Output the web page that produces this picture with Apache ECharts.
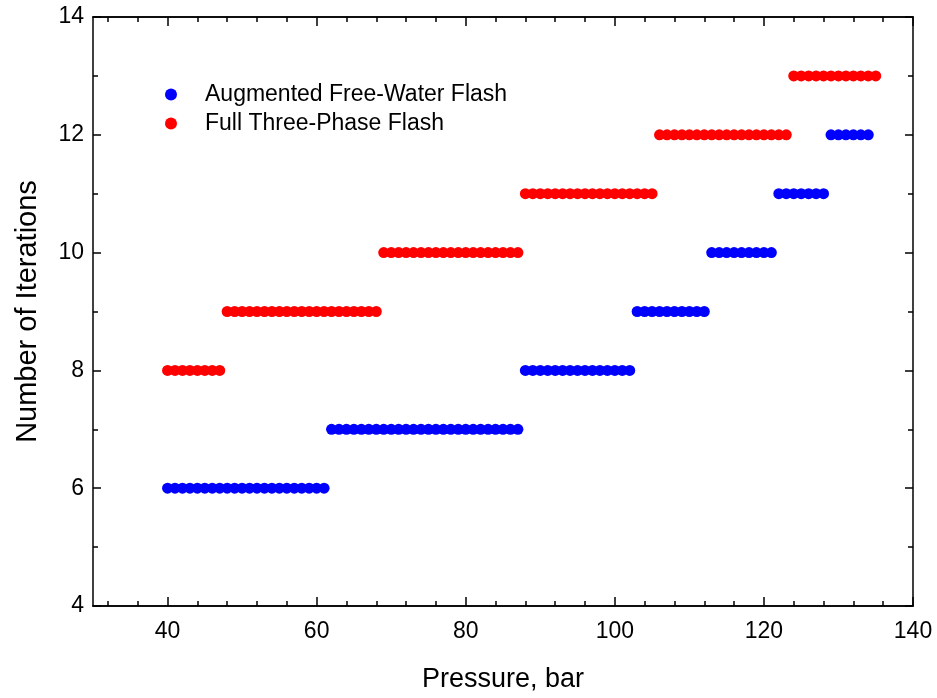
<!DOCTYPE html>
<html>
<head>
<meta charset="utf-8">
<script src="https://cdn.jsdelivr.net/npm/echarts@6/dist/echarts.min.js"></script>
<style>html,body{margin:0;padding:0;background:#fff}#c{width:937px;height:698px}</style>
</head>
<body>
<div id="c"></div>
<script>
// Augmented Free-Water Flash
const afwPressure = [
  40,41,42,43,44,45,46,47,48,49,50,51,52,53,54,55,56,57,58,59,60,61,
  62,63,64,65,66,67,68,69,70,71,72,73,74,75,76,77,78,79,80,81,82,83,84,85,86,87,
  88,89,90,91,92,93,94,95,96,97,98,99,100,101,102,
  103,104,105,106,107,108,109,110,111,112,
  113,114,115,116,117,118,119,120,121,
  122,123,124,125,126,127,128,
  129,130,131,132,133,134
];
const afwIterations = [
  6,6,6,6,6,6,6,6,6,6,6,6,6,6,6,6,6,6,6,6,6,6,
  7,7,7,7,7,7,7,7,7,7,7,7,7,7,7,7,7,7,7,7,7,7,7,7,7,7,
  8,8,8,8,8,8,8,8,8,8,8,8,8,8,8,
  9,9,9,9,9,9,9,9,9,9,
  10,10,10,10,10,10,10,10,10,
  11,11,11,11,11,11,11,
  12,12,12,12,12,12
];
// Full Three-Phase Flash
const ftpPressure = [
  40,41,42,43,44,45,46,47,
  48,49,50,51,52,53,54,55,56,57,58,59,60,61,62,63,64,65,66,67,68,
  69,70,71,72,73,74,75,76,77,78,79,80,81,82,83,84,85,86,87,
  88,89,90,91,92,93,94,95,96,97,98,99,100,101,102,103,104,105,
  106,107,108,109,110,111,112,113,114,115,116,117,118,119,120,121,122,123,
  124,125,126,127,128,129,130,131,132,133,134,135
];
const ftpIterations = [
  8,8,8,8,8,8,8,8,
  9,9,9,9,9,9,9,9,9,9,9,9,9,9,9,9,9,9,9,9,9,
  10,10,10,10,10,10,10,10,10,10,10,10,10,10,10,10,10,10,10,
  11,11,11,11,11,11,11,11,11,11,11,11,11,11,11,11,11,11,
  12,12,12,12,12,12,12,12,12,12,12,12,12,12,12,12,12,12,
  13,13,13,13,13,13,13,13,13,13,13,13
];
const xMajorTicks = [40,60,80,100,120,140];
const xMinorTicks = [32,36,44,48,52,56,64,68,72,76,84,88,92,96,104,108,112,116,124,128,132,136];
const seriesNames = ['Augmented Free-Water Flash','Full Three-Phase Flash'];

const zip = (a,b) => a.map((v,i)=>[v,b[i]]);
const font = 'Liberation Sans, Arial, sans-serif';
const lineStyle = {color:'#000', width:1.5};

function xAx(pos, values, len, labels, name) {
  return {
    type:'value', min:30, max:140, position:pos,
    axisLine:{show:true, onZero:false, lineStyle},
    axisTick:{show:true, inside:true, length:len, customValues:values, lineStyle},
    axisLabel:{show:labels, customValues:values, fontFamily:font, fontSize:23, color:'#000', margin:14},
    splitLine:{show:false},
    name:name||'', nameLocation:'middle', nameGap:60,
    nameTextStyle:{fontFamily:font, fontSize:27, color:'#000'}
  };
}
function yAx(pos, labels, name) {
  return {
    type:'value', min:4, max:14, interval:2, position:pos,
    axisLine:{show:true, onZero:false, lineStyle},
    axisTick:{show:true, inside:true, length:8, lineStyle},
    minorTick:{show:true, splitNumber:2, length:5, lineStyle},
    axisLabel:{show:labels, fontFamily:font, fontSize:23, color:'#000', margin:9},
    splitLine:{show:false},
    name:name||'', nameLocation:'middle', nameGap:51,
    nameTextStyle:{fontFamily:font, fontSize:29, color:'#000'}
  };
}

const chart = echarts.init(document.getElementById('c'), null, {renderer:'canvas'});
chart.setOption({
  animation:false,
  backgroundColor:'#fff',
  grid:{left:93, right:24, top:17, bottom:91},
  legend:{
    orient:'vertical', left:160, top:78, itemGap:6,
    itemWidth:12, itemHeight:12, icon:'circle',
    textStyle:{fontFamily:font, fontSize:23, color:'#000', padding:[0,0,0,23]},
    data:seriesNames
  },
  xAxis:[
    xAx('bottom', xMajorTicks, 9, true, 'Pressure, bar'),
    xAx('bottom', xMinorTicks, 5, false),
    xAx('top', xMajorTicks, 9, false),
    xAx('top', xMinorTicks, 5, false)
  ],
  yAxis:[
    yAx('left', true, 'Number of Iterations'),
    yAx('right', false)
  ],
  series:[
    {name:seriesNames[0], type:'scatter', xAxisIndex:0, yAxisIndex:0, symbol:'circle', symbolSize:11,
     itemStyle:{color:'#0000ff', opacity:1}, data:zip(afwPressure, afwIterations)},
    {name:seriesNames[1], type:'scatter', xAxisIndex:0, yAxisIndex:0, symbol:'circle', symbolSize:11,
     itemStyle:{color:'#ff0000', opacity:1}, data:zip(ftpPressure, ftpIterations)}
  ]
});
</script>
</body>
</html>
